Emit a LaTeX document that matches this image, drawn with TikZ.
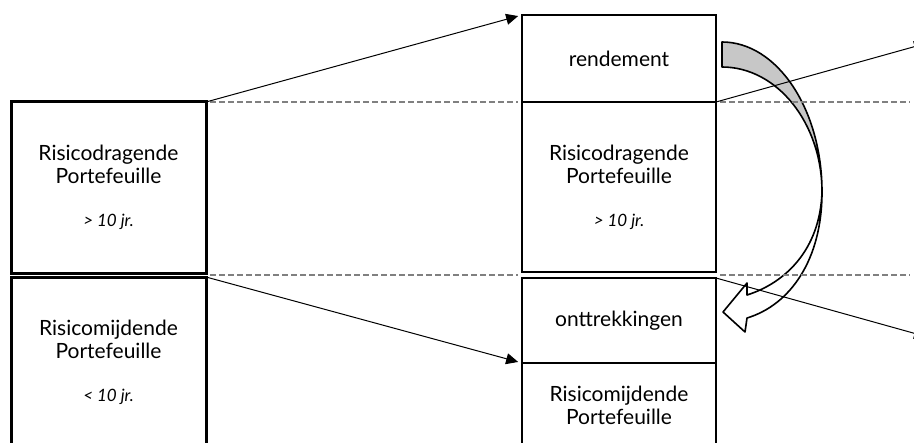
\documentclass[tikz,border=0pt]{standalone}
\usepackage{fontspec}
\setmainfont{Lato}
\usetikzlibrary{arrows.meta,calc,positioning}
\newcommand{\tekst}{\fontsize{10.5}{11.5}\selectfont}
\newcommand{\termijn}[1]{\\[10pt]{\fontsize{8.5}{9}\selectfont\itshape #1}}
\tikzset{
>={Stealth[inset=0pt,length=6pt,width=5.5pt]},
blok/.style={draw,line width=1pt,outer sep=0pt,minimum width=97pt,align=center,font=\tekst},
blok links/.style={blok,line width=1.5pt,minimum width=97.5pt,minimum height=85.5pt},
pijl/.style={->,line width=0.5pt,shorten >=2pt},
stippel/.style={black!50,line width=0.6pt,dash pattern=on 3pt off 1.5pt,shorten <=2pt,shorten >=2pt},
boog/.style={line width=0.8pt,line join=round}}

\begin{document}
\begin{tikzpicture}[x=0.5pt,y=-0.5pt]

      \useasboundingbox (0,0) rectangle (914,443);
      \clip (0,0) rectangle (914,443);

      % links
      \node[blok links] (lt) at (108.5,187.5) {Risicodragende\\Portefeuille\termijn{> 10 jr.}};
      \node[blok links,below=2pt of lt] (lb) {Risicomijdende\\Portefeuille\termijn{< 10 jr.}};

      % midden
      \node[blok,minimum height=43.5pt] (rend) at (619,58.5) {rendement};
      \node[blok,minimum height=85pt,below=0pt of rend] (rd) {Risicodragende\\Portefeuille\termijn{> 10 jr.}};
      \node[blok,minimum height=42.5pt,below=3pt of rd] (ont) {onttrekkingen};
      \node[blok,minimum height=42pt,below=0pt of ont] (rm) {Risicomijdende\\Portefeuille};

      \coordinate (rand1) at (914,102);
      \coordinate (rand2) at (914,275);
      \coordinate (rb) at (930,42.3);
      \coordinate (ro) at (930,337.7);

      % gebogen pijl
      \draw[boog,fill=black!22] (722,42) -- (722,67) .. controls (777,67) and (822,123) .. (822,192)
            .. controls (822,109) and (777,42) .. (722,42) -- cycle;
      \draw[boog,fill=white] (822,192) .. controls (822,260) and (790,305) .. (747,318) -- (745,332)
            -- (723,312) -- (747,283) -- (747,295) .. controls (785,283) and (820,250) .. (822,192) -- cycle;

      \draw[stippel] (lt.north east) -- (rend.south west);
      \draw[stippel] ($(lt.south east)!.5!(lb.north east)$) -- ($(rd.south west)!.5!(ont.north west)$);
      \draw[stippel] (rd.north east) -- (rand1);
      \draw[stippel] ($(rd.south east)!.5!(ont.north east)$) -- (rand2);

      \path[pijl] (lt.north east) edge (rend.north west) (lb.north east) edge (ont.south west);
      \path[pijl] (rd.north east) edge (rb) (ont.north east) edge (ro);
\end{tikzpicture}
\end{document}
